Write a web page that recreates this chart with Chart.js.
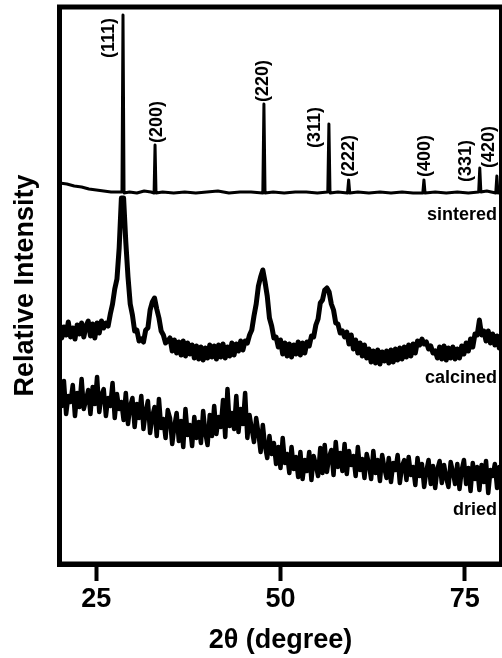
<!DOCTYPE html>
<html>
<head>
<meta charset="utf-8">
<title>XRD patterns</title>
<script src="https://cdn.jsdelivr.net/npm/chart.js@4/dist/chart.umd.min.js"></script>
<style>
  html, body { margin: 0; padding: 0; background: #fff; }
  canvas { display: block; }
</style>
</head>
<body>
<canvas id="xrd" width="502" height="658"></canvas>
<script>
// Scan grid shared by the calcined and dried patterns (2θ, degrees)
const scanStart = 20.0;
const scanStep = 0.3;
const scanPoints = 201;

// Calcined powder, offset intensity (arb. units), one value per scan step
const calcinedCounts = [
  240, 226, 237, 229, 242, 227, 236, 225, 239, 230,
  241, 227, 238, 243, 228, 240, 226, 241, 231, 243,
  236, 241, 238, 250, 260, 275, 285, 316, 366, 366,
  322, 287, 260, 249, 233, 234, 223, 225, 222, 234,
  236, 254, 262, 266, 255, 246, 233, 229, 221, 223,
  226, 213, 224, 211, 222, 209, 223, 208, 221, 210,
  219, 206, 218, 205, 217, 204, 216, 206, 219, 207,
  218, 205, 219, 207, 220, 206, 217, 208, 221, 209,
  220, 213, 223, 214, 223, 221, 229, 234, 248, 260,
  278, 287, 294, 282, 268, 246, 238, 226, 227, 217,
  224, 210, 221, 208, 220, 207, 219, 210, 222, 209,
  221, 211, 222, 218, 228, 227, 239, 245, 261, 264,
  274, 276, 272, 260, 254, 241, 240, 231, 233, 227,
  232, 220, 229, 215, 224, 211, 221, 208, 219, 206,
  215, 202, 213, 201, 214, 200, 212, 203, 213, 201,
  214, 202, 215, 204, 216, 205, 217, 207, 219, 208,
  220, 211, 223, 219, 225, 220, 222, 215, 218, 211,
  213, 206, 217, 205, 218, 204, 216, 206, 217, 205,
  215, 206, 218, 210, 221, 213, 225, 217, 230, 229,
  244, 229, 233, 223, 233, 221, 230, 219, 228, 216, 223
];

// Dried gel, offset intensity (arb. units), one value per scan step
const driedCounts = [
  176, 158, 183, 150, 168, 162, 179, 148, 171, 157,
  185, 155, 164, 174, 150, 177, 160, 187, 152, 169,
  175, 148, 166, 158, 181, 146, 170, 155, 162, 144,
  171, 140, 158, 166, 137, 160, 146, 168, 135, 152,
  163, 131, 148, 157, 128, 165, 136, 145, 126, 154,
  146, 120, 138, 151, 123, 143, 117, 155, 129, 139,
  118, 147, 126, 142, 121, 153, 131, 119, 149, 128,
  158, 130, 147, 137, 164, 127, 175, 138, 151, 135,
  168, 132, 155, 140, 171, 126, 149, 135, 122, 146,
  131, 112, 139, 118, 106, 128, 110, 121, 100, 117,
  96, 126, 101, 110, 91, 117, 95, 107, 87, 112,
  85, 104, 93, 112, 84, 108, 99, 88, 116, 91,
  119, 92, 107, 114, 89, 122, 97, 111, 93, 120,
  90, 113, 99, 108, 88, 117, 94, 105, 86, 110,
  100, 85, 113, 91, 104, 83, 109, 96, 86, 106,
  82, 101, 94, 109, 81, 98, 104, 84, 107, 89,
  97, 79, 106, 88, 100, 77, 93, 104, 80, 98,
  76, 95, 103, 81, 99, 86, 77, 102, 92, 80,
  100, 75, 94, 104, 80, 96, 73, 101, 85, 97,
  74, 99, 82, 103, 71, 94, 88, 100, 76, 97, 84
];

// Sintered ceramic: sharp reflections, sampled at irregular angles
const sinteredAngles = [
  20, 21, 22, 23, 24, 25, 26, 27, 28,
  28.48, 28.62, 28.76,
  29.5, 30.5, 31.5, 32.4,
  32.84, 32.97, 33.1,
  34, 35.5, 37, 38.5, 40, 41.5, 43, 44.5, 46,
  47.6, 47.75, 47.9,
  49, 50.5, 52, 53.5, 55,
  56.42, 56.57, 56.72,
  57.8,
  59.1, 59.25, 59.4,
  60.5, 62, 63.5, 65, 66.5, 68,
  69.32, 69.47, 69.62,
  71, 72.5, 74, 75.5,
  76.9, 77.05, 77.2,
  78,
  79.22, 79.37, 79.52,
  80
];
const sinteredCounts = [
  381, 380, 378, 377, 375, 374, 373, 372, 372,
  372, 549, 371,
  372, 371, 373, 372,
  371, 419, 371,
  372, 371, 372, 371, 372, 373, 371, 372, 372,
  371, 460, 371,
  372, 371, 372, 372, 371,
  372, 440, 371,
  372,
  371, 384, 371,
  372, 371, 372, 371, 372, 371,
  371, 384, 371,
  372, 371, 372, 371,
  372, 396, 372,
  373,
  371, 388, 371,
  372
];

// Miller indices of the indexed reflections and their peak angles
const hklLabels = ['(111)', '(200)', '(220)', '(311)', '(222)', '(400)', '(331)', '(420)'];
const hklAngles = [28.62, 32.97, 47.75, 56.57, 59.25, 69.47, 77.05, 79.37];

// Pattern names
const patternNames = ['sintered', 'calcined', 'dried'];

// Axis ticks
const xTickValues = [25, 50, 75];

const FONT = '"Liberation Sans", Arial, Helvetica, sans-serif';

const scanAngles = [];
for (let i = 0; i < scanPoints; i++) scanAngles.push(+(scanStart + i * scanStep).toFixed(1));

const toPoints = (xs, ys) => xs.map((a, i) => ({ x: a, y: ys[i] }));

// Label placement, pixel offsets from each peak tip
const hklOffsets = [
  { dx: -14, dy: 43 }, { dx: 2, dy: -2 }, { dx: -1, dy: -2 }, { dx: -14, dy: 24 },
  { dx: 0, dy: -3 }, { dx: 1, dy: -3 }, { dx: -14, dy: 14 }, { dx: -8, dy: -8 }
];
// Baseline heights (axis units) of the pattern names
const nameHeights = [344, 181, 49];

const annotations = {
  id: 'xrdAnnotations',
  afterDatasetsDraw(chart) {
    const { ctx, chartArea, scales } = chart;
    const xs = scales.x, ys = scales.y;
    ctx.save();
    ctx.fillStyle = '#000';

    ctx.font = 'bold 18px ' + FONT;
    hklLabels.forEach((txt, k) => {
      const idx = sinteredAngles.indexOf(hklAngles[k]);
      const px = xs.getPixelForValue(hklAngles[k]) + hklOffsets[k].dx;
      const py = ys.getPixelForValue(sinteredCounts[idx]) + hklOffsets[k].dy;
      ctx.save();
      ctx.translate(px, py);
      ctx.rotate(-Math.PI / 2);
      ctx.textAlign = 'left';
      ctx.textBaseline = 'middle';
      ctx.fillText(txt, 0, 0);
      ctx.restore();
    });

    ctx.textAlign = 'right';
    ctx.textBaseline = 'alphabetic';
    patternNames.forEach((name, k) => {
      ctx.fillText(name, chartArea.right - 4.5, ys.getPixelForValue(nameHeights[k]));
    });

    // Heavy frame around the plot area
    ctx.lineWidth = 5;
    ctx.strokeStyle = '#000';
    ctx.strokeRect(chartArea.left, chartArea.top, chartArea.right - chartArea.left, chartArea.bottom - chartArea.top);
    ctx.restore();
  }
};

const lineStyle = (w) => ({
  borderColor: '#000',
  borderWidth: w,
  pointRadius: 0,
  tension: 0,
  fill: false,
  borderJoinStyle: 'round',
  borderCapStyle: 'round'
});

new Chart(document.getElementById('xrd'), {
  type: 'line',
  data: {
    datasets: [
      Object.assign({ label: patternNames[0], data: toPoints(sinteredAngles, sinteredCounts) }, lineStyle(3)),
      Object.assign({ label: patternNames[1], data: toPoints(scanAngles, calcinedCounts) }, lineStyle(5)),
      Object.assign({ label: patternNames[2], data: toPoints(scanAngles, driedCounts) }, lineStyle(4.5))
    ]
  },
  options: {
    responsive: false,
    animation: false,
    devicePixelRatio: 1,
    layout: { padding: { top: 7, right: 0.5, left: 0, bottom: 0 } },
    plugins: { legend: { display: false }, tooltip: { enabled: false } },
    scales: {
      x: {
        type: 'linear',
        min: 20,
        max: 80,
        afterBuildTicks: (scale) => { scale.ticks = xTickValues.map(v => ({ value: v })); },
        afterFit: (scale) => { scale.height = 94; },
        grid: { display: true, drawOnChartArea: false, drawTicks: true, tickLength: 17, tickWidth: 4, tickColor: '#000' },
        border: { display: true, width: 5, color: '#000' },
        ticks: { color: '#000', font: { family: FONT, size: 27, weight: 'bold' }, padding: 2, maxRotation: 0 },
        title: { display: true, text: '2θ (degree)', color: '#000', font: { family: FONT, size: 27, weight: 'bold' }, padding: { top: 0, bottom: 1 } }
      },
      y: {
        type: 'linear',
        min: 0,
        max: 557,
        afterFit: (scale) => { scale.width = 59.5; },
        grid: { display: false, drawTicks: false },
        border: { display: true, width: 5, color: '#000' },
        ticks: { display: false },
        title: { display: true, text: 'Relative Intensity', color: '#000', font: { family: FONT, size: 27, weight: 'bold' }, padding: { top: 9, bottom: 0 } }
      }
    }
  },
  plugins: [annotations]
});
</script>
</body>
</html>
